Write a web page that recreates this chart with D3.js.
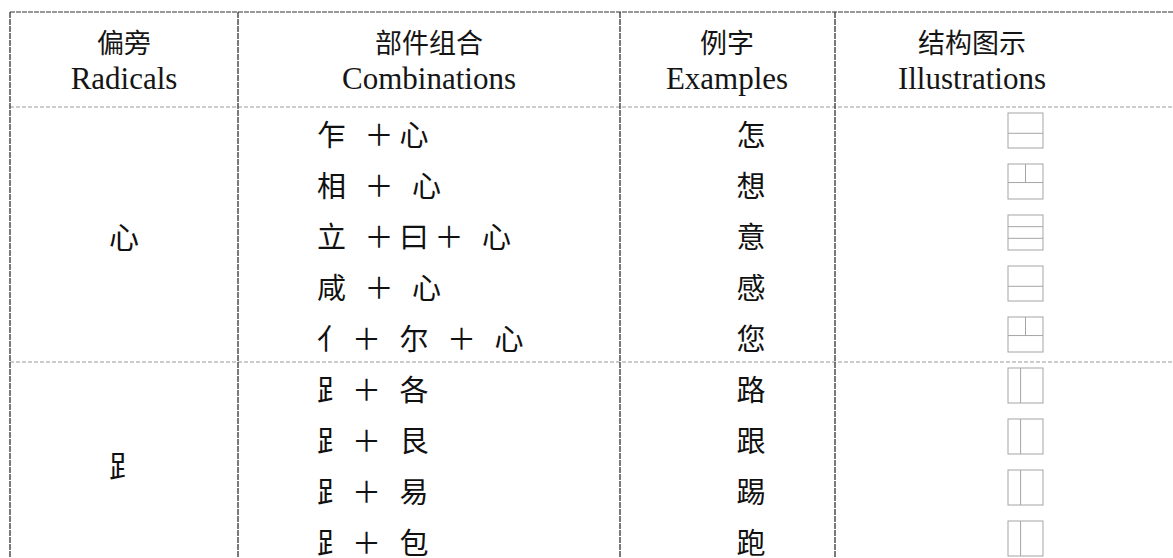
<!DOCTYPE html>
<html>
<head>
<meta charset="utf-8">
<script src="https://cdn.jsdelivr.net/npm/d3@7"></script>
<style>
  html, body { margin: 0; padding: 0; background: #fff; }
  svg { display: block; }
  .zh { font-family: "Noto Sans CJK SC", "Noto Sans", sans-serif; }
  .en { font-family: "Liberation Serif", "Times New Roman", serif; }
</style>
</head>
<body>
<svg id="chart" width="1173" height="558"></svg>
<script>
// ---------- data ----------
const headersZh = ["偏旁", "部件组合", "例字", "结构图示"];
const headersEn = ["Radicals", "Combinations", "Examples", "Illustrations"];
const radicals = ["心", "⻊"];
const groupSizes = [5, 4];
const combinations = [
  "乍 ＋心",
  "相 ＋ 心",
  "立 ＋曰＋ 心",
  "咸 ＋ 心",
  "亻＋ 尔 ＋ 心",
  "⻊＋ 各",
  "⻊＋ 艮",
  "⻊＋ 易",
  "⻊＋ 包"
];
const examples = ["怎", "想", "意", "感", "您", "路", "跟", "踢", "跑"];
const structures = ["top-bottom", "top2-bottom", "top-mid-bottom", "top-bottom", "top2-bottom",
                    "left-right", "left-right", "left-right", "left-right"];

// ---------- layout ----------
const W = 1173, H = 558;
const svg = d3.select("#chart");
const colEdges = [10, 238, 620, 835, 1180];
const headerTop = 12, headerBottom = 107, rowH = 51;
const nRows = examples.length;

const y = d3.scaleBand()
  .domain(d3.range(nRows))
  .range([headerBottom, headerBottom + rowH * nRows])
  .padding(0);

const colCenter = i => (colEdges[i] + colEdges[i + 1]) / 2;

// ---------- grid lines ----------
const dark = "#333", light = "#9a9a9a";
svg.append("line").attr("x1", colEdges[0]).attr("x2", W).attr("y1", headerTop).attr("y2", headerTop)
  .attr("stroke", dark).attr("stroke-width", 1.2).attr("stroke-dasharray", "5,1");
const hLines = [headerBottom];
let acc = 0;
groupSizes.forEach(g => { acc += g; hLines.push(y(acc - 1) + y.bandwidth()); });
svg.selectAll(".hline").data(hLines.filter(v => v < H)).enter().append("line")
  .attr("x1", colEdges[0]).attr("x2", W)
  .attr("y1", d => d).attr("y2", d => d)
  .attr("stroke", light).attr("stroke-width", 1).attr("stroke-dasharray", "4,2");
svg.selectAll(".vline").data(colEdges.slice(0, 4)).enter().append("line")
  .attr("x1", d => d).attr("x2", d => d)
  .attr("y1", headerTop).attr("y2", H)
  .attr("stroke", dark).attr("stroke-width", 1.3).attr("stroke-dasharray", "6,1");

// ---------- header ----------
const headerX = [124, 429, 727, 972];
svg.selectAll(".hzh").data(headersZh).enter().append("text")
  .attr("class", "zh")
  .attr("x", (d, i) => headerX[i]).attr("y", 41)
  .attr("text-anchor", "middle").attr("dominant-baseline", "central")
  .attr("font-size", 27).attr("fill", "#151515")
  .text(d => d);
svg.selectAll(".hen").data(headersEn).enter().append("text")
  .attr("class", "en")
  .attr("x", (d, i) => headerX[i]).attr("y", 89)
  .attr("text-anchor", "middle")
  .attr("font-size", 31).attr("fill", "#151515")
  .text(d => d);

// ---------- radicals (merged cells) ----------
let start = 0;
const radPos = groupSizes.map(g => {
  const top = y(start), bottom = y(start + g - 1) + y.bandwidth();
  start += g;
  return (top + bottom) / 2;
});
svg.selectAll(".rad").data(radicals).enter().append("text")
  .attr("class", "zh")
  .attr("x", colCenter(0)).attr("y", (d, i) => radPos[i])
  .attr("text-anchor", "middle").attr("dominant-baseline", "central")
  .attr("font-size", 30).attr("fill", "#111")
  .text(d => d);

// ---------- combinations ----------
svg.selectAll(".comb").data(combinations).enter().append("text")
  .attr("class", "zh")
  .attr("x", 317).attr("y", (d, i) => y(i) + y.bandwidth() / 2)
  .attr("dominant-baseline", "central")
  .attr("font-size", 29).attr("letter-spacing", 6)
  .style("white-space", "pre")
  .attr("fill", "#111")
  .text(d => d);

// ---------- examples ----------
svg.selectAll(".ex").data(examples).enter().append("text")
  .attr("class", "zh")
  .attr("x", 751).attr("y", (d, i) => y(i) + y.bandwidth() / 2)
  .attr("text-anchor", "middle").attr("dominant-baseline", "central")
  .attr("font-size", 29).attr("fill", "#111")
  .text(d => d);

// ---------- illustrations ----------
const box = 35, boxX = 1008;
const boxColor = "#a5a5a5";
const g = svg.selectAll(".ill").data(structures).enter().append("g")
  .attr("transform", (d, i) => `translate(${boxX},${y(i) + y.bandwidth() / 2 - 2 - box / 2})`);
g.append("rect").attr("width", box).attr("height", box)
  .attr("fill", "none").attr("stroke", boxColor).attr("stroke-width", 1);
g.each(function(d) {
  const s = d3.select(this);
  const ln = (x1, y1, x2, y2) => s.append("line")
    .attr("x1", x1).attr("y1", y1).attr("x2", x2).attr("y2", y2)
    .attr("stroke", boxColor).attr("stroke-width", 1);
  if (d === "top-bottom") {
    ln(0, box * 0.58, box, box * 0.58);
  } else if (d === "top2-bottom") {
    ln(0, box * 0.53, box, box * 0.53);
    ln(box * 0.5, 0, box * 0.5, box * 0.53);
  } else if (d === "top-mid-bottom") {
    ln(0, box / 3, box, box / 3);
    ln(0, box * 2 / 3, box, box * 2 / 3);
  } else if (d === "left-right") {
    ln(box * 0.36, 0, box * 0.36, box);
  }
});
</script>
</body>
</html>
